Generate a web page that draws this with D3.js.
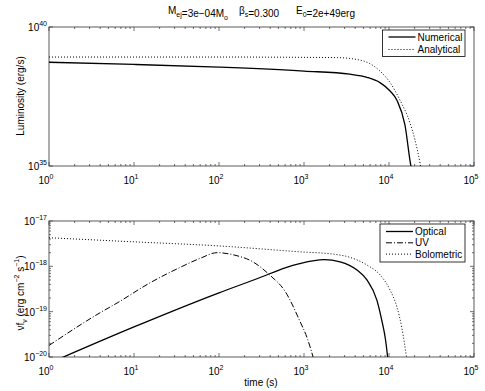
<!DOCTYPE html>
<html lang="en">
<head>
<meta charset="utf-8" />
<title>Luminosity and flux</title>
<script src="https://d3js.org/d3.v7.min.js"></script>
<style>
    body { margin: 0; background: #fff; }
    svg { font-family: "Liberation Sans", Arial, sans-serif; }
    .frame { fill: none; stroke: #333; stroke-width: 0.8; }
    .tick-line { stroke: #333; stroke-width: 0.7; }
</style>
</head>
<body>
<script>
// ---- data ----
// top panel: luminosity (erg/s)
const tNumerical = [1, 10, 100, 1000, 3470, 5500, 7830, 10300, 12400, 15400, 18100, 19000];
const lNumerical = [5.4e38, 4.5e38, 3.6e38, 2.6e38, 2.0e38, 1.55e38, 1.0e38, 5.0e37, 2.3e37, 3.0e36, 1.0e35, 5e34];
const tAnalytical = [1, 100, 1000, 2500, 4170, 5970, 7830, 10300, 13500, 17700, 20200, 23200, 24500];
const lAnalytical = [8.3e38, 8.3e38, 8.1e38, 7.9e38, 6.8e38, 4.8e38, 2.6e38, 1.0e38, 2.3e37, 3.5e36, 8.7e35, 1.26e35, 5e34];

// bottom panel: nu f_nu (erg cm^-2 s^-1)
const tOptical = [1.3, 10, 100, 300, 600, 890, 1720, 2660, 4200, 5500, 7200, 8200, 9100, 9700];
const fOptical = [9e-21, 4.6e-20, 2.6e-19, 5.6e-19, 9.3e-19, 1.15e-18, 1.41e-18, 1.26e-18, 8.3e-19, 5.0e-19, 1.8e-19, 6.6e-20, 2.4e-20, 9e-21];
const tUV = [1, 4, 6.5, 15, 35, 60, 95, 150, 250, 400, 600, 890, 1100, 1300];
const fUV = [1.8e-20, 9.5e-20, 1.6e-19, 4.2e-19, 9.5e-19, 1.5e-18, 2.0e-18, 1.78e-18, 1.26e-18, 6.3e-19, 2.8e-19, 6.3e-20, 2.5e-20, 9e-21];
const tBolometric = [1, 10, 100, 890, 2200, 3470, 5500, 7830, 10300, 12400, 14100, 16200];
const fBolometric = [4.27e-18, 3.47e-18, 2.82e-18, 2.09e-18, 1.86e-18, 1.58e-18, 1.07e-18, 6.5e-19, 3.0e-19, 1.26e-19, 4.6e-20, 9e-21];

const xDecades = [0, 1, 2, 3, 4, 5];
const topYDecades = [35, 40];
const botYDecades = [-20, -19, -18, -17];

const W = 485, H = 391;
const left = 49, right = 474;

const svg = d3.select("body").append("svg")
    .attr("width", W).attr("height", H);

const x = d3.scaleLog().domain([1, 1e5]).range([left, right]);

// superscript text helper
function powLabel(g, px, py, exp, anchor) {
    const t = g.append("text")
        .attr("x", px).attr("y", py)
        .attr("font-size", 10)
        .attr("text-anchor", anchor)
        .attr("fill", "#000");
    t.append("tspan").text("10");
    t.append("tspan").attr("dy", -5).attr("font-size", 7)
        .text(String(exp).replace("-", "\u2212"));
    return t;
}

function drawPanel(top, bottom, yDom, yDecades, yMinor, name) {
    const y = d3.scaleLog().domain(yDom).range([bottom, top]);
    const g = svg.append("g");

    g.append("clipPath").attr("id", "clip-" + name)
        .append("rect").attr("x", left).attr("y", top)
        .attr("width", right - left).attr("height", bottom - top);

    // x ticks: bottom and top, inside
    xDecades.forEach(function(d) {
        const tv = Math.pow(10, d);
        const px = x(tv);
        g.append("line").attr("class", "tick-line")
            .attr("x1", px).attr("x2", px).attr("y1", bottom).attr("y2", bottom - 4);
        g.append("line").attr("class", "tick-line")
            .attr("x1", px).attr("x2", px).attr("y1", top).attr("y2", top + 4);
        powLabel(g, px - 3, bottom + 18, d, "middle");
        if (d < 5) {
            for (let m = 2; m < 10; m++) {
                const mx = x(m * tv);
                g.append("line").attr("class", "tick-line")
                    .attr("x1", mx).attr("x2", mx).attr("y1", bottom).attr("y2", bottom - 2);
                g.append("line").attr("class", "tick-line")
                    .attr("x1", mx).attr("x2", mx).attr("y1", top).attr("y2", top + 2);
            }
        }
    });

    // y ticks
    yDecades.forEach(function(d, i) {
        const v = Math.pow(10, d);
        const py = y(v);
        g.append("line").attr("class", "tick-line")
            .attr("x1", left).attr("x2", left + 4).attr("y1", py).attr("y2", py);
        g.append("line").attr("class", "tick-line")
            .attr("x1", right).attr("x2", right - 4).attr("y1", py).attr("y2", py);
        powLabel(g, left - 2, py + 4, d, "end");
        if (yMinor && i < yDecades.length - 1) {
            for (let m = 2; m < 10; m++) {
                const my = y(m * v);
                g.append("line").attr("class", "tick-line")
                    .attr("x1", left).attr("x2", left + 2).attr("y1", my).attr("y2", my);
                g.append("line").attr("class", "tick-line")
                    .attr("x1", right).attr("x2", right - 2).attr("y1", my).attr("y2", my);
            }
        }
    });

    g.append("rect").attr("class", "frame")
        .attr("x", left).attr("y", top)
        .attr("width", right - left).attr("height", bottom - top);

    const plot = g.append("g").attr("clip-path", "url(#clip-" + name + ")");
    return { y: y, g: g, plot: plot };
}

function addLine(panel, ts, vs, dash) {
    const pts = ts.map(function(t, i) { return [t, vs[i]]; });
    const line = d3.line()
        .x(function(d) { return x(d[0]); })
        .y(function(d) { return panel.y(d[1]); })
        .curve(d3.curveMonotoneX);
    panel.plot.append("path")
        .attr("d", line(pts))
        .attr("fill", "none")
        .attr("stroke", "#000")
        .attr("stroke-width", dash ? 1 : 1.3)
        .attr("stroke-dasharray", dash || null);
}

function addLegend(g, x0, y0, w, entries) {
    const rowH = entries.length === 2 ? 12.5 : 11.3;
    const h = entries.length === 2 ? 26.5 : 38;
    g.append("rect").attr("x", x0).attr("y", y0).attr("width", w).attr("height", h)
        .attr("fill", "#fff").attr("stroke", "#000").attr("stroke-width", 0.8);
    entries.forEach(function(e, i) {
        const ly = y0 + (entries.length === 2 ? 7 : 7.5) + i * rowH;
        g.append("line").attr("x1", x0 + 6).attr("x2", x0 + 33)
            .attr("y1", ly).attr("y2", ly)
            .attr("stroke", "#000").attr("stroke-width", e.dash ? 1 : 1.3)
            .attr("stroke-dasharray", e.dash || null);
        g.append("text").attr("x", x0 + 35).attr("y", ly + 3.5)
            .attr("font-size", 10).text(e.label);
    });
}

// ---- top panel ----
const topP = drawPanel(27, 166, [1e35, 1e40], topYDecades, false, "top");
addLine(topP, tNumerical, lNumerical, null);
addLine(topP, tAnalytical, lAnalytical, "1,2");
addLegend(topP.g, 382.5, 30, 82.5, [
    { label: "Numerical", dash: null },
    { label: "Analytical", dash: "1,2" }
]);

// ---- bottom panel ----
const botP = drawPanel(221, 357, [1e-20, 1e-17], botYDecades, true, "bot");
addLine(botP, tOptical, fOptical, null);
addLine(botP, tUV, fUV, "6,2,1,2");
addLine(botP, tBolometric, fBolometric, "1,2");
addLegend(botP.g, 380, 224, 85, [
    { label: "Optical", dash: null },
    { label: "UV", dash: "6,2,1,2" },
    { label: "Bolometric", dash: "1,2" }
]);

// ---- title ----
function subText(px, py, parts) {
    const t = svg.append("text").attr("x", px).attr("y", py).attr("font-size", 10);
    parts.forEach(function(p) {
        if (p.sub) {
            t.append("tspan").attr("dy", 3).attr("font-size", 7).text(p.sub);
            t.append("tspan").attr("dy", -3).text("");
        } else {
            t.append("tspan").text(p.t);
        }
    });
    return t;
}
subText(168, 14, [{ t: "M" }, { sub: "ej" }, { t: "=3e\u221204M" }, { sub: "o" }]);
subText(239, 14, [{ t: "\u03b2" }, { sub: "s" }, { t: "=0.300" }]);
subText(296, 14, [{ t: "E" }, { sub: "0" }, { t: "=2e+49erg" }]);

// ---- axis labels ----
svg.append("text")
    .attr("transform", "translate(24,96) rotate(-90)")
    .attr("text-anchor", "middle").attr("font-size", 10)
    .text("Luminosity (erg/s)");

const yl = svg.append("text")
    .attr("transform", "translate(24,293) rotate(-90)")
    .attr("text-anchor", "middle").attr("font-size", 10);
yl.append("tspan").text("\u03bdf");
yl.append("tspan").attr("dy", 3).attr("font-size", 7).text("\u03bd");
yl.append("tspan").attr("dy", -3).text(" (erg cm");
yl.append("tspan").attr("dy", -5).attr("font-size", 7).text("\u22122");
yl.append("tspan").attr("dy", 5).text(" s");
yl.append("tspan").attr("dy", -5).attr("font-size", 7).text("\u22121");
yl.append("tspan").attr("dy", 5).text(")");

svg.append("text")
    .attr("x", 261).attr("y", 386)
    .attr("text-anchor", "middle").attr("font-size", 10)
    .text("time (s)");
</script>
</body>
</html>
